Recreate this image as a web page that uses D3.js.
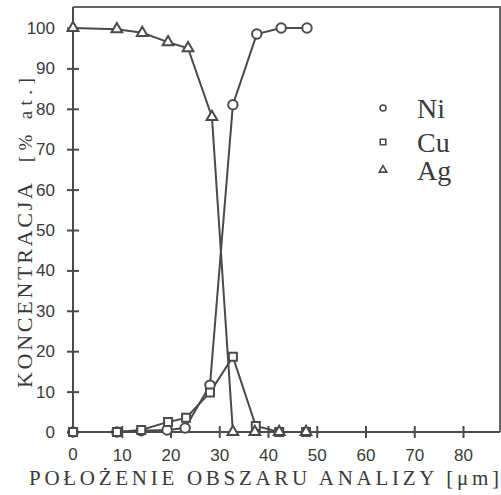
<!DOCTYPE html>
<html>
<head>
<meta charset="utf-8">
<script src="https://cdn.jsdelivr.net/npm/d3@7"></script>
<style>
  body { margin: 0; background: #fff; }
  .tick text { font-family: "Liberation Sans", Arial, sans-serif; font-size: 17px; fill: #3a3a3a; }
  .serif { font-family: "Liberation Serif", "Times New Roman", serif; fill: #3a3a3a; }
</style>
</head>
<body>
<script>

	// measurement positions (um) and concentrations (% at.)
	var xNi = [0, 9, 14, 19.3, 23, 28.1, 32.8, 37.7, 42.7, 48];
	var ni  = [0, 0, 0.3, 0.5, 1, 11.6, 81, 98.5, 100, 100];

	var xCu = [0, 9, 14, 19.5, 23.2, 28.1, 32.8, 37.5, 42.3, 47.8];
	var cu  = [0, 0, 0.5, 2.5, 3.5, 9.8, 18.6, 1.5, 0, 0];

	var xAg = [0, 9, 14.2, 19.5, 23.6, 28.5, 32.8, 37.3, 42.3, 47.8];
	var ag  = [100, 99.7, 98.8, 96.5, 95, 78, 0, 0, 0, 0];

	var series = ["Ni", "Cu", "Ag"];
	var xTicks = [10, 20, 30, 40, 50, 60, 70, 80];
	var yTicks = [0, 10, 20, 30, 40, 50, 60, 70, 80, 90, 100];

	var width = 501, height = 495;
	var ink = "#4a4a4a";

	var svg = d3.select("body").append("svg")
	    .attr("width", width)
	    .attr("height", height);

	var x = d3.scaleLinear().domain([0, 80]).range([73, 463]);
	var y = d3.scaleLinear().domain([0, 100]).range([432, 28]);

	var frameRight = 500, frameTop = 7;

	// frame (top + right)
	svg.append("path")
	    .attr("d", "M" + x(0) + "," + frameTop + "H" + frameRight + "V" + y(0))
	    .attr("fill", "none")
	    .attr("stroke", "#666")
	    .attr("stroke-width", 2);

	// axes
	var gx = svg.append("g")
	    .attr("transform", "translate(0," + y(0) + ")")
	    .call(d3.axisBottom(x).tickValues(xTicks).tickFormat(d3.format("d"))
	          .tickSizeInner(6).tickSizeOuter(0).tickPadding(11));
	gx.select(".domain").attr("d", "M" + x(0) + ",0H" + frameRight);
	gx.selectAll(".tick line").attr("y1", -6).attr("y2", 6);

	var gy = svg.append("g")
	    .attr("transform", "translate(" + x(0) + ",0)")
	    .call(d3.axisLeft(y).tickValues(yTicks).tickFormat(d3.format("d"))
	          .tickSizeInner(6).tickSizeOuter(0).tickPadding(12));
	gy.select(".domain").attr("d", "M0," + frameTop + "V" + y(0));
	gy.selectAll(".tick line").attr("x1", -6).attr("x2", 6);

	svg.selectAll(".domain, .tick line")
	    .attr("stroke", ink)
	    .attr("stroke-width", 2);

	// x = 0 label sits under the corner
	svg.append("text")
	    .style("font-family", "'Liberation Sans', Arial, sans-serif")
	    .style("font-size", "17px")
	    .attr("fill", "#3a3a3a")
	    .attr("x", x(0))
	    .attr("y", 460)
	    .attr("text-anchor", "middle")
	    .text("0");

	// lines and markers
	var line = d3.line()
	    .x(function(d){ return x(d[0]); })
	    .y(function(d){ return y(d[1]); });

	var data = {
	    Ni: d3.zip(xNi, ni),
	    Cu: d3.zip(xCu, cu),
	    Ag: d3.zip(xAg, ag)
	};

	var sym = {
	    Ni: d3.symbol().type(d3.symbolCircle).size(70),
	    Cu: d3.symbol().type(d3.symbolSquare).size(64),
	    Ag: d3.symbol().type(d3.symbolTriangle).size(50)
	};

	series.forEach(function(s){
	    svg.append("path")
	        .datum(data[s])
	        .attr("fill", "none")
	        .attr("stroke", ink)
	        .attr("stroke-width", 2)
	        .attr("d", line);
	});

	series.forEach(function(s){
	    svg.append("g").selectAll("path")
	        .data(data[s])
	        .enter()
	        .append("path")
	        .attr("transform", function(d){ return "translate(" + x(d[0]) + "," + y(d[1]) + ")"; })
	        .attr("d", sym[s])
	        .attr("fill", "#fff")
	        .attr("stroke", ink)
	        .attr("stroke-width", 2);
	});

	// legend
	var legend = svg.append("g");
	var legY = [108, 142, 170];
	var legSym = {
	    Ni: d3.symbol().type(d3.symbolCircle).size(28),
	    Cu: d3.symbol().type(d3.symbolSquare).size(30),
	    Ag: d3.symbol().type(d3.symbolTriangle).size(24)
	};
	series.forEach(function(s, i){
	    legend.append("path")
	        .attr("transform", "translate(383," + legY[i] + ")")
	        .attr("d", legSym[s])
	        .attr("fill", "#fff")
	        .attr("stroke", ink)
	        .attr("stroke-width", 1.6);
	    legend.append("text")
	        .attr("class", "serif")
	        .attr("x", 417)
	        .attr("y", legY[i] + 10)
	        .style("font-size", "28px")
	        .text(s);
	});

	// axis titles
	svg.append("text")
	    .attr("class", "serif")
	    .attr("x", 29)
	    .attr("y", 485)
	    .attr("textLength", 470)
	    .attr("lengthAdjust", "spacing")
	    .style("font-size", "21px")
	    .text("POŁOŻENIE OBSZARU ANALIZY [μm]");

	var yt = svg.append("text")
	    .attr("class", "serif")
	    .attr("transform", "translate(32,388) rotate(-90)")
	    .style("font-size", "22px");
	yt.append("tspan")
	    .attr("textLength", 205)
	    .attr("lengthAdjust", "spacing")
	    .text("KONCENTRACJA");
	yt.append("tspan")
	    .attr("dx", 18)
	    .attr("textLength", 84)
	    .attr("lengthAdjust", "spacing")
	    .style("font-size", "19px")
	    .text("[% at.]");

</script>
</body>
</html>
